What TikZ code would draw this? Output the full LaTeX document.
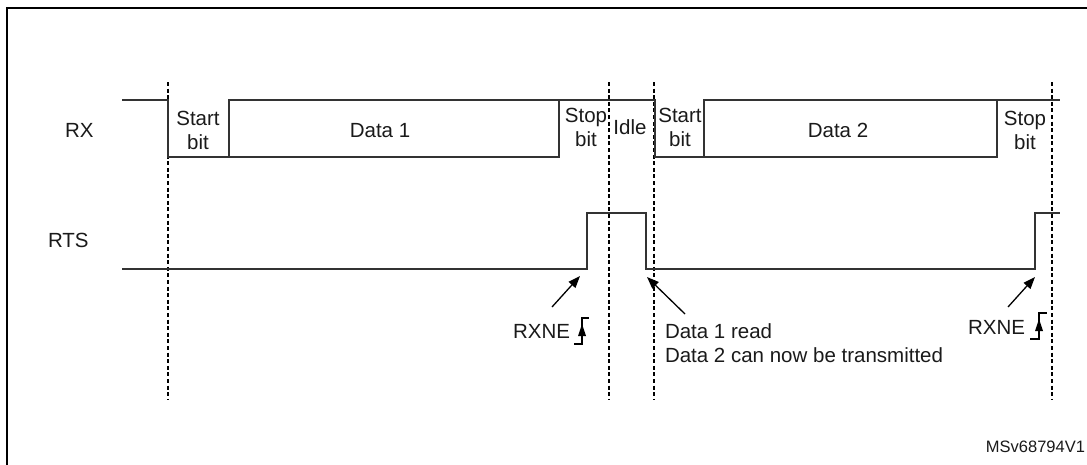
\documentclass[tikz,border=0pt]{standalone}
\usepackage{fontspec}
\setmainfont{Liberation Sans}
\usetikzlibrary{arrows.meta}
\definecolor{sig}{HTML}{333333}
\definecolor{txt}{HTML}{1A1A1A}
\tikzset{
  lbl/.style={inner sep=0pt, outer sep=0pt, text=txt, font=\fontsize{20.5}{24}\selectfont},
  lbltwo/.style={lbl, align=center},
  small/.style={inner sep=0pt, outer sep=0pt, text=txt, font=\fontsize{16.5}{20}\selectfont},
  wave/.style={draw=sig, line width=1.5pt, line join=miter},
  guide/.style={draw=black, line width=1.3pt, dash pattern=on 4pt off 2.6pt},
  pointer/.style={draw=black, line width=1.3pt, -{Triangle[length=12pt,width=9pt]}},
  edgesym/.style={draw=black, line width=1.3pt},
  frame/.style={draw=black, line width=2pt}
}
\begin{document}
\begin{tikzpicture}[x=1pt,y=-1pt]
\useasboundingbox (0,0) rectangle (1087,464);
\clip (0,0) rectangle (1087,464);
% frame
\draw[frame] (7,480) -- (7,8) -- (1100,8);
% guides
\foreach \gx/\gn in {168/ga,609/gb,654/gc,1052/gd}{
  \coordinate (\gn top) at (\gx,82);
  \coordinate (\gn bot) at (\gx,400);
  \draw[guide] (\gn top) -- (\gn bot);
}
% RX waveform
\draw[wave] (122,100) -- (168,100) -- (168,157) -- (559,157) -- (559,100);
\draw[wave] (229,157) -- (229,100) -- (655,100) -- (655,157) -- (997,157) -- (997,100);
\draw[wave] (704,157) -- (704,100) -- (1060,100);
% RTS waveform
\draw[wave] (122,269) -- (587,269) -- (587,213) -- (646,213) -- (646,269) -- (1035,269) -- (1035,213) -- (1060,213);
% signal names
\node[lbl, anchor=base west] (rx) at (65,137) {RX};
\node[lbl, anchor=base west] (rts) at (48,247) {RTS};
% field labels (base anchor = last line)
\node[lbltwo, anchor=base] (start1) at (198,149) {Start\\bit};
\node[lbl, anchor=base] (data1) at (380,137) {Data 1};
\node[lbltwo, anchor=base] (stop1) at (586,146) {Stop\\bit};
\node[lbl, anchor=base] (idle) at (630,134) {Idle};
\node[lbltwo, anchor=base] (start2) at (680,146) {Start\\bit};
\node[lbl, anchor=base] (data2) at (838,137) {Data 2};
\node[lbltwo, anchor=base] (stop2) at (1025,149) {Stop\\bit};
% annotations
\node[lbl, anchor=base east] (rxne1) at (570,338) {RXNE};
\node[lbl, anchor=base east] (rxne2) at (1025,334) {RXNE};
\node[lbl, anchor=base west, align=left] (readtxt) at (665,362) {Data 1 read\\Data 2 can now be transmitted};
\node[small, anchor=base east] (ref) at (1085,452) {MSv68794V1};
% pointers
\coordinate (p1tail) at (552,307); \coordinate (p1tip) at (580,276);
\coordinate (p2tail) at (685,314); \coordinate (p2tip) at (647,277);
\coordinate (p3tail) at (1008,307); \coordinate (p3tip) at (1035,277);
\draw[pointer] (p1tail) -- (p1tip);
\draw[pointer] (p2tail) -- (p2tip);
\draw[pointer] (p3tail) -- (p3tip);
% rising-edge symbols
\draw[edgesym] (574,344) -- (582,344) -- (582,318) -- (589,318);
\fill[black] (582,324) -- (578,336) -- (586,336) -- cycle;
\draw[edgesym] (1030,339) -- (1039,339) -- (1039,313) -- (1047,313);
\fill[black] (1039,319) -- (1035,331) -- (1043,331) -- cycle;
\end{tikzpicture}
\end{document}
